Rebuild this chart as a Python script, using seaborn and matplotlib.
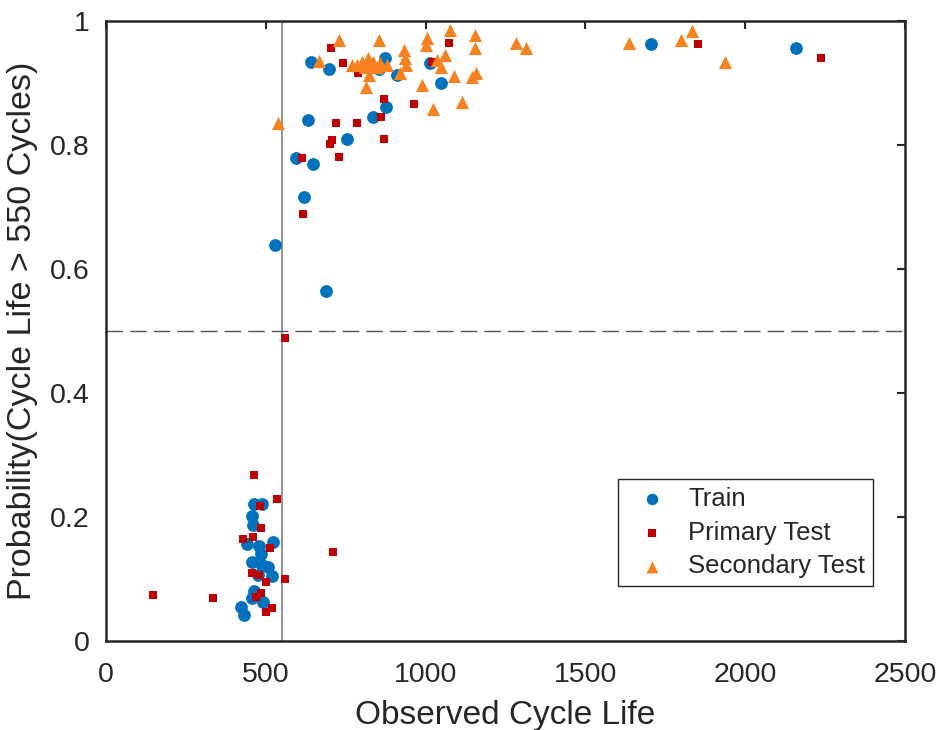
import numpy as np
import pandas as pd
import matplotlib
matplotlib.use("Agg")
import matplotlib.pyplot as plt
import seaborn as sns

# Observed cycle life vs. predicted probability of exceeding 550 cycles
train_life = [464, 487, 456, 461, 440, 523, 480, 485, 456, 489, 508, 477, 520, 464, 456, 492, 422, 433,
              529, 688, 620, 594, 647, 633, 753, 836, 876, 641, 699, 873, 855, 911, 1012, 1048, 1706, 2157]
train_prob = [0.221, 0.221, 0.202, 0.187, 0.156, 0.159, 0.153, 0.140, 0.128, 0.123, 0.120, 0.106, 0.105, 0.081, 0.069, 0.063, 0.055, 0.042,
              0.639, 0.565, 0.716, 0.780, 0.769, 0.841, 0.810, 0.845, 0.861, 0.934, 0.923, 0.941, 0.923, 0.913, 0.932, 0.901, 0.963, 0.956]

primary_life = [464, 534, 482, 485, 430, 459, 513, 456, 480, 500, 561, 468, 485, 520, 500, 148, 334, 711, 560,
                615, 614, 719, 706, 701, 730, 786, 859, 869, 869, 965, 703, 740, 787, 1019, 1073, 1851, 2236]
primary_prob = [0.268, 0.229, 0.218, 0.182, 0.164, 0.167, 0.150, 0.109, 0.106, 0.095, 0.100, 0.071, 0.077, 0.053, 0.046, 0.074, 0.069, 0.144, 0.489,
                0.689, 0.780, 0.835, 0.809, 0.802, 0.781, 0.836, 0.846, 0.810, 0.874, 0.867, 0.956, 0.932, 0.916, 0.934, 0.964, 0.963, 0.940]

secondary_life = [539, 1024, 1113, 730, 855, 666, 769, 784, 800, 810, 821, 826, 836, 847, 857, 878, 824, 813,
                  920, 932, 936, 939, 988, 1005, 1001, 1034, 1047, 1061, 1076, 1090, 1155, 1155, 1144, 1158,
                  1283, 1313, 1637, 1799, 1834, 1935]
secondary_prob = [0.835, 0.858, 0.869, 0.969, 0.970, 0.935, 0.930, 0.929, 0.934, 0.926, 0.940, 0.929, 0.934, 0.926, 0.932, 0.930, 0.913, 0.894,
                  0.916, 0.953, 0.940, 0.929, 0.897, 0.973, 0.961, 0.937, 0.926, 0.945, 0.985, 0.912, 0.977, 0.956, 0.910, 0.917,
                  0.964, 0.957, 0.964, 0.970, 0.984, 0.934]

groups = ["Train", "Primary Test", "Secondary Test"]
threshold_life = 550
threshold_prob = 0.5

df = pd.concat([
    pd.DataFrame({"life": train_life, "prob": train_prob, "set": "Train"}),
    pd.DataFrame({"life": primary_life, "prob": primary_prob, "set": "Primary Test"}),
    pd.DataFrame({"life": secondary_life, "prob": secondary_prob, "set": "Secondary Test"}),
], ignore_index=True)

sns.set_style("white")
plt.rcParams["font.family"] = ["Liberation Sans", "DejaVu Sans"]

palette = {"Train": "#0072BD", "Primary Test": "#C00000", "Secondary Test": "#F5821F"}
markers = {"Train": "o", "Primary Test": "s", "Secondary Test": "^"}
sizes = {"Train": 85, "Primary Test": 40, "Secondary Test": 90}

fig = plt.figure(figsize=(9.38, 7.30), dpi=100)
ax = fig.add_axes([0.113, 0.122, 0.852, 0.849])

ax.axvline(threshold_life, color="#808080", lw=1.2, zorder=1)
ax.axhline(threshold_prob, color="#555555", lw=1.0, ls=(0, (12, 5)), zorder=1)

for g in groups:
    sub = df[df["set"] == g]
    sns.scatterplot(data=sub, x="life", y="prob", color=palette[g], marker=markers[g],
                    s=sizes[g], linewidth=0, ax=ax, label=g, zorder=3)

ax.set_xlim(0, 2500)
ax.set_ylim(0, 1)
ax.set_xticks([0, 500, 1000, 1500, 2000, 2500])
ax.set_yticks([0, 0.2, 0.4, 0.6, 0.8, 1.0])
ax.set_yticklabels(["0", "0.2", "0.4", "0.6", "0.8", "1"])
ax.tick_params(direction="in", length=6, width=1.5, top=True, right=True,
               labelsize=20.5, colors="#262626")
ax.tick_params(axis="x", pad=15)
ax.tick_params(axis="y", pad=12)
for sp in ax.spines.values():
    sp.set_linewidth(1.8)
    sp.set_color("#262626")

ax.set_xlabel("Observed Cycle Life", fontsize=24, color="#262626", labelpad=9)
ax.set_ylabel("Probability(Cycle Life > 550 Cycles)", fontsize=24.5, color="#262626", labelpad=8)

leg = ax.legend(loc="upper left", bbox_to_anchor=(0.641, 0.261), borderaxespad=0, fontsize=18.5,
                frameon=True, fancybox=False, edgecolor="#262626", framealpha=1,
                handlelength=2.0, handletextpad=0.42, borderpad=0.3, labelspacing=0.38, markerscale=0.9)
leg.get_frame().set_linewidth(1.0)

fig.savefig("out.png", dpi=100)
